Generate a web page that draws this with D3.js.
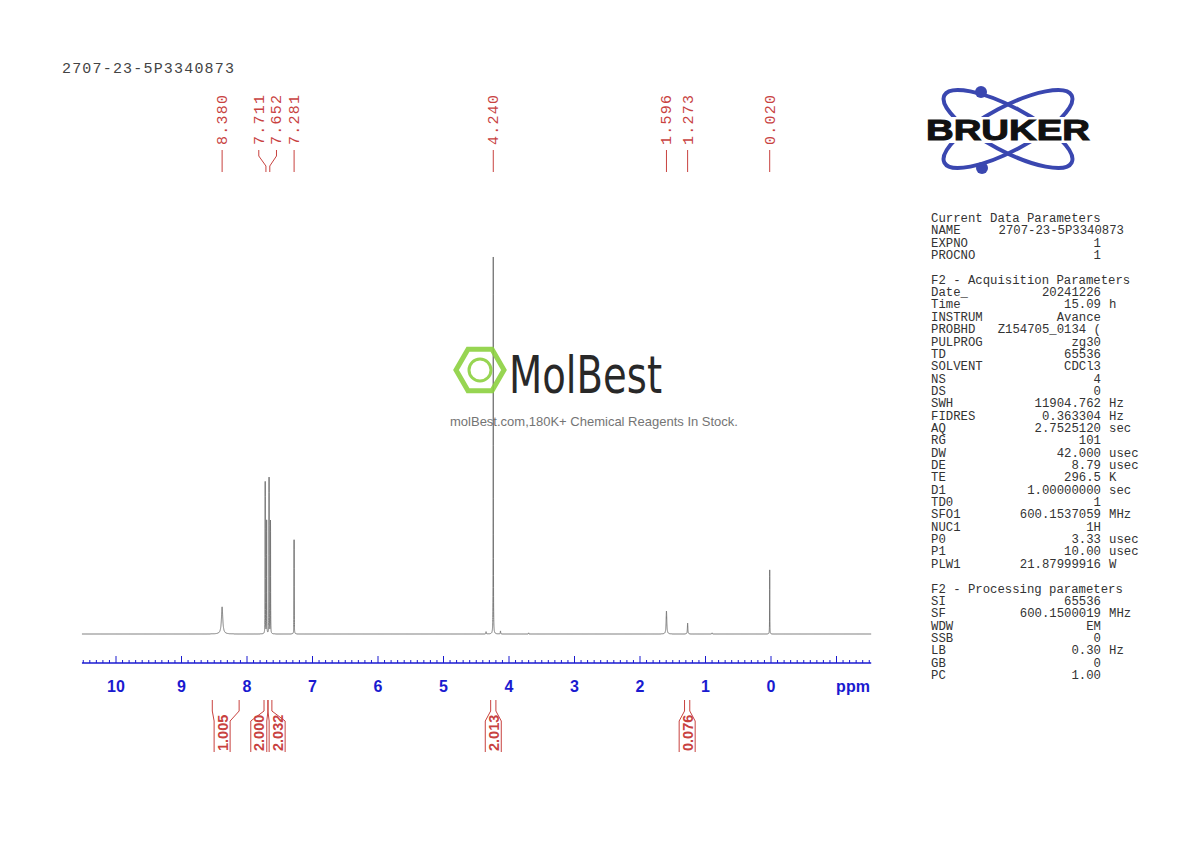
<!DOCTYPE html><html><head><meta charset="utf-8"><script src="https://cdn.jsdelivr.net/npm/d3@7"></script>
<style>body{margin:0;background:#fff}</style></head><body><svg id="c" width="1190" height="842"></svg>
<script>
const peakPpm=[8.380,7.722,7.700,7.663,7.641,7.281,4.240,4.35,4.13,3.70,1.596,1.273,0.90,0.020];
const peakInt=[7.2,40.3,30,41.4,30,25,100,0.6,0.8,0.3,6.1,2.9,0.3,17];
const peakWidth=[0.012,0.0015,0.0015,0.0015,0.0015,0.0015,0.0015,0.003,0.003,0.003,0.006,0.004,0.004,0.0015];
const labelVals=["8.380","7.711","7.652","7.281","4.240","1.596","1.273","0.020"];
const labelPpm=[8.380,7.711,7.652,7.281,4.240,1.596,1.273,0.020];
const labelAt=[8.380,7.82,7.55,7.281,4.240,1.596,1.273,0.020];
const integLabels=["1.005","2.000","2.032","2.013","0.076"];
const integFrom=[8.53,7.74,7.68,4.28,1.32];
const integTo=[8.12,7.68,7.62,4.20,1.24];
const integAt=[8.38,7.82,7.54,4.24,1.28];
const ticks=[10,9,8,7,6,5,4,3,2,1,0];
const params=[["Current Data Parameters",""],["NAME","2707-23-5P3340873"],["EXPNO","1"],["PROCNO","1"],["",""],
["F2 - Acquisition Parameters",""],["Date_","20241226"],["Time","15.09 h"],["INSTRUM","Avance"],["PROBHD","Z154705_0134 ("],["PULPROG","zg30"],["TD","65536"],["SOLVENT","CDCl3"],["NS","4"],["DS","0"],["SWH","11904.762 Hz"],["FIDRES","0.363304 Hz"],["AQ","2.7525120 sec"],["RG","101"],["DW","42.000 usec"],["DE","8.79 usec"],["TE","296.5 K"],["D1","1.00000000 sec"],["TD0","1"],["SFO1","600.1537059 MHz"],["NUC1","1H"],["P0","3.33 usec"],["P1","10.00 usec"],["PLW1","21.87999916 W"],["",""],
["F2 - Processing parameters",""],["SI","65536"],["SF","600.1500019 MHz"],["WDW","EM"],["SSB","0"],["LB","0.30 Hz"],["GB","0"],["PC","1.00"]];

const svg=d3.select("#c");
const x=d3.scaleLinear().domain([10,0]).range([116,771]);
const y=d3.scaleLinear().domain([0,100]).range([634,257]);
const red="#c8423f", blue="#1a1ad0";
const mono="'Liberation Mono','DejaVu Sans Mono',monospace";
svg.append("text").attr("x",62).attr("y",73).attr("font-family",mono).attr("font-size",15).attr("textLength",172).attr("fill","#444").text("2707-23-5P3340873");

const pts=[];
for(let p=10.52;p>=-1.53;p-=0.0005){let s=0;peakPpm.forEach((c,i)=>{const w=peakWidth[i];s+=peakInt[i]*w*w/((p-c)*(p-c)+w*w);});pts.push([p,s]);}
svg.append("path").datum(pts).attr("fill","none").attr("stroke","#777").attr("stroke-width",1)
 .attr("d",d3.line().x(d=>x(d[0])).y(d=>y(d[1])));

const ax=svg.append("g");
ax.append("line").attr("x1",x(10.52)).attr("x2",x(-1.53)).attr("y1",663).attr("y2",663).attr("stroke",blue).attr("stroke-width",1.3);
d3.range(-15,106).forEach(i=>{const v=i/10;const major=i%10===0;
 ax.append("line").attr("x1",x(v)).attr("x2",x(v)).attr("y1",663).attr("y2",major?656:660).attr("stroke",blue);});
ticks.forEach(t=>ax.append("text").attr("x",x(t)).attr("y",692).attr("text-anchor","middle").attr("font-family","Liberation Sans,Arial").attr("font-weight","bold").attr("font-size",16).attr("fill",blue).text(t));
ax.append("text").attr("x",853).attr("y",692).attr("text-anchor","middle").attr("font-family","Liberation Sans,Arial").attr("font-weight","bold").attr("font-size",16).attr("fill",blue).text("ppm");

labelVals.forEach((s,i)=>{const lx=x(labelAt[i]), px=x(labelPpm[i]);
 svg.append("text").attr("transform",`translate(${lx+5},145) rotate(-90)`).attr("font-family",mono).attr("font-size",15).attr("textLength",50).attr("fill",red).text(s);
 svg.append("path").attr("fill","none").attr("stroke",red).attr("d",`M${lx},150 L${lx},156 L${px},166 L${px},172`);});

integLabels.forEach((s,i)=>{const a=x(integFrom[i]),b=x(integTo[i]),m=x(integAt[i]);const hw=8;
 svg.append("path").attr("fill","none").attr("stroke",red).attr("d",`M${a},700 L${a},711 L${m-hw},721 L${m-hw},752 M${b},700 L${b},711 L${m+hw},721 L${m+hw},752`);
 svg.append("text").attr("transform",`translate(${m+5.5},751) rotate(-90)`).attr("font-family","Liberation Sans,Arial").attr("font-weight","bold").attr("font-size",14.5).attr("fill",red).text(s);});

const wm=svg.append("g").attr("opacity",0.9);
const hex=d3.range(6).map(k=>[480+24*Math.cos(Math.PI/3*k),370+24*Math.sin(Math.PI/3*k)]);
wm.append("polygon").attr("points",hex.join(" ")).attr("fill","none").attr("stroke","#8cd140").attr("stroke-width",5);
wm.append("circle").attr("cx",480).attr("cy",370).attr("r",11).attr("fill","none").attr("stroke","#8cd140").attr("stroke-width",3);
wm.append("text").attr("x",509).attr("y",393).attr("font-family","'Liberation Sans Narrow','DejaVu Sans Condensed',sans-serif").attr("font-size",52).attr("textLength",153).attr("lengthAdjust","spacingAndGlyphs").attr("fill","#111").text("MolBest");
wm.append("text").attr("x",594).attr("y",426).attr("text-anchor","middle").attr("font-family","Liberation Sans,Arial").attr("font-size",13).attr("fill","#666").text("molBest.com,180K+ Chemical Reagents In Stock.");

const lg=svg.append("g");
lg.append("ellipse").attr("cx",1008).attr("cy",129).attr("rx",72).attr("ry",22).attr("transform","rotate(28,1008,129)").attr("fill","none").attr("stroke","#3a47b0").attr("stroke-width",4);
lg.append("ellipse").attr("cx",1008).attr("cy",129).attr("rx",72).attr("ry",22).attr("transform","rotate(-28,1008,129)").attr("fill","none").attr("stroke","#3a47b0").attr("stroke-width",4);
lg.append("rect").attr("x",925).attr("y",117).attr("width",166).attr("height",26).attr("fill","#fff");
lg.append("circle").attr("cx",981).attr("cy",92).attr("r",6).attr("fill","#3a47b0");
lg.append("circle").attr("cx",982).attr("cy",168).attr("r",6).attr("fill","#3a47b0");
lg.append("text").attr("x",1008).attr("y",140).attr("text-anchor","middle").attr("font-family","'Liberation Sans',Arial").attr("font-weight","bold").attr("font-size",29).attr("textLength",164).attr("lengthAdjust","spacingAndGlyphs").attr("fill","#111").attr("stroke","#111").attr("stroke-width",1).text("BRUKER");

const fs=12.3;
params.forEach((r,i)=>{const yy=222+i*12.35;
 svg.append("text").attr("x",931).attr("y",yy).attr("font-family",mono).attr("font-size",fs).attr("fill","#333").text(r[0]);
 if(r[1]){const m=r[1].match(/^(.*?)( (Hz|h|sec|usec|K|MHz|W))?$/);
  const rx = r[0]==="NAME"?1124:1101;
  svg.append("text").attr("x",rx).attr("y",yy).attr("text-anchor","end").attr("font-family",mono).attr("font-size",fs).attr("fill","#333").text(m[1]);
  if(m[3])svg.append("text").attr("x",1109).attr("y",yy).attr("font-family",mono).attr("font-size",fs).attr("fill","#333").text(m[3]);}});
</script></body></html>
